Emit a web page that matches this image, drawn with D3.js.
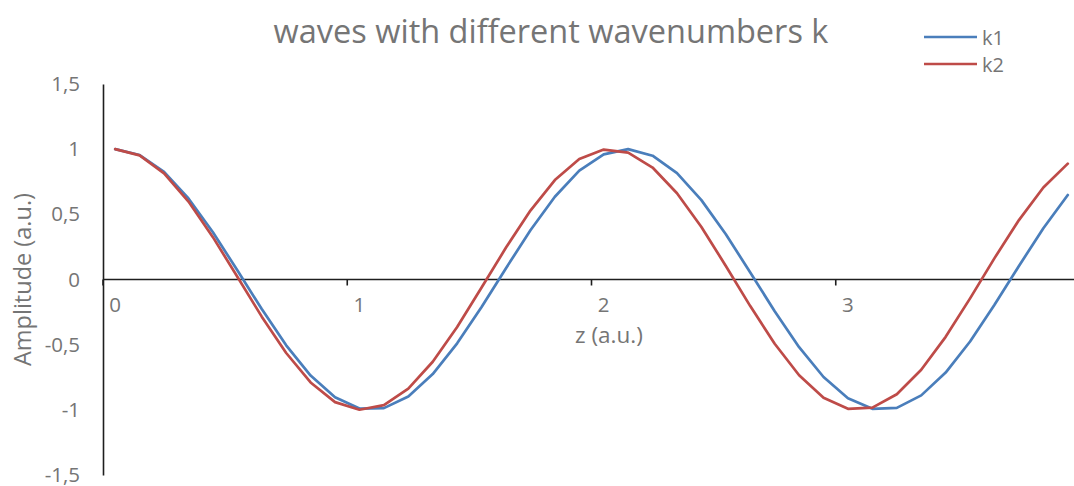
<!DOCTYPE html>
<html>
<head>
<meta charset="utf-8">
<script src="https://cdn.jsdelivr.net/npm/d3@7"></script>
<style>
  html, body { margin: 0; padding: 0; background: #fff; }
  svg { display: block; font-family: "Open Sans", "Noto Sans", sans-serif; }
</style>
</head>
<body>
<svg id="chart" width="1074" height="486"></svg>
<script>
// Position along z (a.u.), one category every 0.1
const zValues = [0,0.1,0.2,0.3,0.4,0.5,0.6,0.7,0.8,0.9,1,1.1,1.2,1.3,1.4,1.5,1.6,1.7,1.8,1.9,
                 2,2.1,2.2,2.3,2.4,2.5,2.6,2.7,2.8,2.9,3,3.1,3.2,3.3,3.4,3.5,3.6,3.7,3.8,3.9];

// Wave amplitudes for the two wavenumbers
const k1Values = [1.000,0.955,0.825,0.622,0.362,0.071,-0.227,-0.505,-0.737,-0.904,
                  -0.990,-0.987,-0.897,-0.726,-0.490,-0.211,0.087,0.378,0.635,0.835,
                  0.960,1.000,0.950,0.816,0.609,0.347,0.054,-0.244,-0.519,-0.748,
                  -0.911,-0.992,-0.985,-0.889,-0.714,-0.476,-0.194,0.104,0.393,0.648];
const k2Values = [1.000,0.952,0.814,0.598,0.325,0.021,-0.285,-0.564,-0.790,-0.941,
                  -0.999,-0.964,-0.837,-0.631,-0.364,-0.062,0.245,0.529,0.763,0.924,
                  0.997,0.974,0.859,0.662,0.403,0.104,-0.204,-0.493,-0.735,-0.907,
                  -0.992,-0.983,-0.880,-0.693,-0.440,-0.145,0.164,0.456,0.706,0.889];

const seriesNames = ["k1", "k2"];
const seriesColors = ["#4a7ebb", "#be4b48"];
const yTicks = [-1.5, -1, -0.5, 0, 0.5, 1, 1.5];
const xLabelEvery = 10;

const titleText = "waves with different wavenumbers k";
const xTitle = "z (a.u.)";
const yTitle = "Amplitude (a.u.)";

const svg = d3.select("#chart");
const textColor = "#757575";
const axisColor = "#1e1e1e";

const plot = { left: 103, right: 1080, top: 84, bottom: 475 };

const x = d3.scaleBand()
  .domain(zValues.map(String))
  .range([plot.left, plot.right])
  .padding(0);
const bw = x.bandwidth();
const xc = i => x(String(zValues[i])) + bw / 2;

const y = d3.scaleLinear().domain([-1.5, 1.5]).range([plot.bottom, plot.top]);

const fmt = v => String(v).replace(".", ",");

// Vertical axis with comma decimal labels, no visible tick marks
const yAxis = d3.axisLeft(y).tickValues(yTicks).tickFormat(fmt).tickSize(0).tickPadding(23);
const gy = svg.append("g").attr("transform", `translate(${plot.left},0)`).call(yAxis);
gy.select(".domain").attr("stroke", axisColor).attr("stroke-width", 1.6);
gy.selectAll("text").attr("fill", textColor).attr("font-size", 20.5)
  .attr("font-family", "Open Sans").attr("dy", "0.32em");

// Horizontal axis crossing at zero
const gx = svg.append("g").attr("transform", `translate(0,${y(0)})`);
gx.append("line")
  .attr("x1", plot.left).attr("x2", 1074)
  .attr("stroke", axisColor).attr("stroke-width", 1.6);

// Tick marks at category boundaries, every tenth category
const tickIdx = d3.range(0, zValues.length + 1, xLabelEvery);
gx.selectAll("line.tick")
  .data(tickIdx)
  .join("line")
  .attr("class", "tick")
  .attr("x1", i => i < zValues.length ? x(String(zValues[i])) : plot.right)
  .attr("x2", i => i < zValues.length ? x(String(zValues[i])) : plot.right)
  .attr("y1", 0).attr("y2", 6)
  .attr("stroke", axisColor).attr("stroke-width", 1.6);

// Category labels, shown every tenth category
const labelIdx = d3.range(0, zValues.length, xLabelEvery);
gx.selectAll("text.lbl")
  .data(labelIdx)
  .join("text")
  .attr("class", "lbl")
  .attr("x", i => xc(i))
  .attr("y", 32)
  .attr("text-anchor", "middle")
  .attr("fill", textColor)
  .attr("font-size", 20.5)
  .text(i => fmt(zValues[i]));

// Wave lines
const line = d3.line().x((d, i) => xc(i)).y(d => y(d));
[k1Values, k2Values].forEach((vals, s) => {
  svg.append("path")
    .datum(vals)
    .attr("d", line)
    .attr("fill", "none")
    .attr("stroke", seriesColors[s])
    .attr("stroke-width", 2.7)
    .attr("stroke-linejoin", "round")
    .attr("stroke-linecap", "round");
});

// Chart title
svg.append("text")
  .attr("x", 551).attr("y", 43)
  .attr("text-anchor", "middle")
  .attr("fill", textColor)
  .attr("font-size", 32.5)
  .text(titleText);

// Axis titles
svg.append("text")
  .attr("x", 609).attr("y", 343)
  .attr("text-anchor", "middle")
  .attr("fill", textColor)
  .attr("font-size", 22.5)
  .text(xTitle);

svg.append("text")
  .attr("transform", `translate(31,${y(0)}) rotate(-90)`)
  .attr("text-anchor", "middle")
  .attr("fill", textColor)
  .attr("font-size", 23.5)
  .text(yTitle);

// Legend
const legend = svg.append("g");
seriesNames.forEach((name, s) => {
  const ly = 37 + s * 27;
  legend.append("line")
    .attr("x1", 924).attr("x2", 977)
    .attr("y1", ly).attr("y2", ly)
    .attr("stroke", seriesColors[s]).attr("stroke-width", 2.7);
  legend.append("text")
    .attr("x", 982).attr("y", ly + 8)
    .attr("fill", textColor)
    .attr("font-size", 20)
    .text(name);
});
</script>
</body>
</html>
